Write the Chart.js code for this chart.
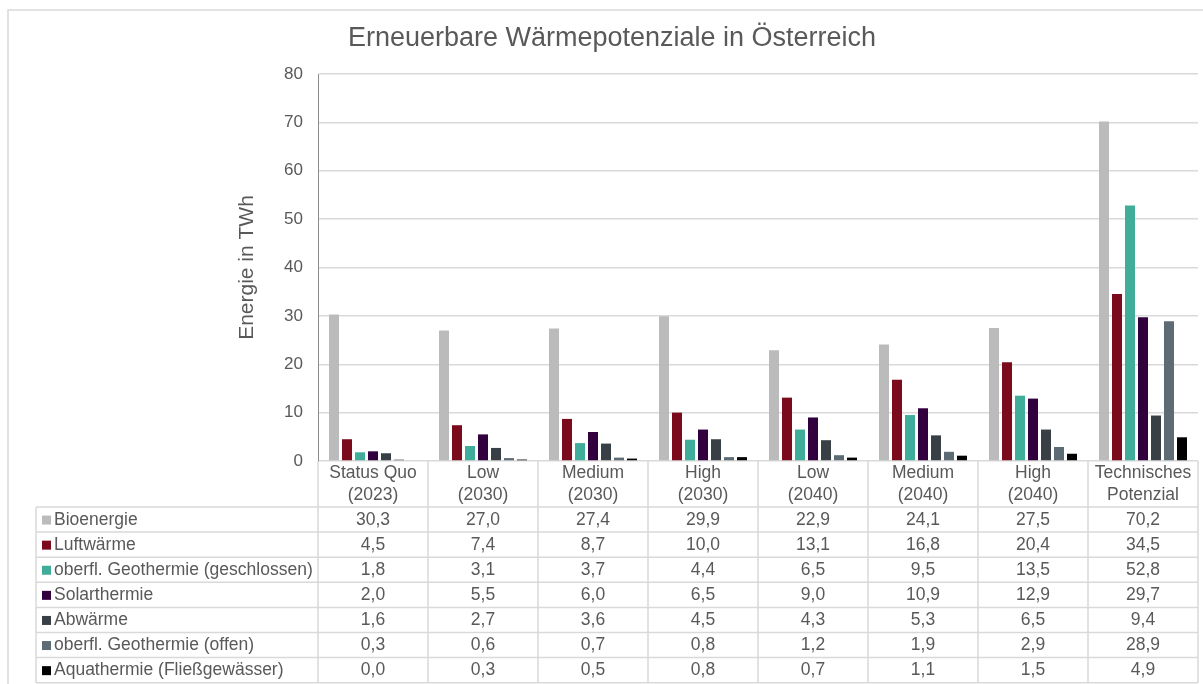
<!DOCTYPE html>
<html>
<head>
<meta charset="utf-8">
<script src="https://cdn.jsdelivr.net/npm/chart.js@4"></script>
<style>
  body { margin: 0; background: #fff; }
  #wrap { width: 1203px; height: 684px; }
</style>
</head>
<body>
<div id="wrap"><canvas id="heat-chart"></canvas></div>
<script>
// categories (two lines each, like the Excel data table header)
const categories = [
  ["Status Quo", "(2023)"], ["Low", "(2030)"], ["Medium", "(2030)"], ["High", "(2030)"],
  ["Low", "(2040)"], ["Medium", "(2040)"], ["High", "(2040)"], ["Technisches", "Potenzial"]
];
const seriesNames = [
  "Bioenergie", "Luftwärme", "oberfl. Geothermie (geschlossen)", "Solarthermie",
  "Abwärme", "oberfl. Geothermie (offen)", "Aquathermie (Fließgewässer)"
];
const bioenergie = [30.3, 27.0, 27.4, 29.9, 22.9, 24.1, 27.5, 70.2];
const luftwaerme = [4.5, 7.4, 8.7, 10.0, 13.1, 16.8, 20.4, 34.5];
const geoGeschlossen = [1.8, 3.1, 3.7, 4.4, 6.5, 9.5, 13.5, 52.8];
const solarthermie = [2.0, 5.5, 6.0, 6.5, 9.0, 10.9, 12.9, 29.7];
const abwaerme = [1.6, 2.7, 3.6, 4.5, 4.3, 5.3, 6.5, 9.4];
const geoOffen = [0.3, 0.6, 0.7, 0.8, 1.2, 1.9, 2.9, 28.9];
const aquathermie = [0.0, 0.3, 0.5, 0.8, 0.7, 1.1, 1.5, 4.9];
const yTicks = [0, 10, 20, 30, 40, 50, 60, 70, 80];

const seriesValues = [bioenergie, luftwaerme, geoGeschlossen, solarthermie, abwaerme, geoOffen, aquathermie];
const colors = ['#BBBBBB', '#7B0A1C', '#40AC9A', '#33003F', '#394045', '#5D6B75', '#000000'];

const textColor = '#595959';
const lineColor = '#D9D9D9';
const fontFamily = '"Liberation Sans", Arial, sans-serif';

// data table + frame under the plot
const tablePlugin = {
  id: 'dataTable',
  beforeDraw(chart) {
    const ctx = chart.ctx;
    ctx.save();
    ctx.strokeStyle = lineColor;
    ctx.lineWidth = 1.5;
    ctx.beginPath();
    ctx.moveTo(8, 684);
    ctx.lineTo(8, 10);
    ctx.lineTo(1203, 10);
    ctx.stroke();
    ctx.restore();
  },
  afterDraw(chart) {
    const ctx = chart.ctx;
    const x = chart.scales.x;
    const area = chart.chartArea;
    const colW = (area.right - area.left) / categories.length;
    const headTop = area.bottom;
    const tableTop = 507;
    const rowH = 25.1;
    const tableLeft = 36;
    const tableBottom = tableTop + rowH * seriesNames.length;

    ctx.save();
    ctx.strokeStyle = lineColor;
    ctx.lineWidth = 1.5;
    ctx.beginPath();
    // vertical lines
    for (let i = 0; i <= categories.length; i++) {
      const vx = area.left + i * colW;
      ctx.moveTo(vx, headTop);
      ctx.lineTo(vx, tableBottom);
    }
    ctx.moveTo(tableLeft, tableTop);
    ctx.lineTo(tableLeft, tableBottom);
    // horizontal lines
    for (let r = 0; r <= seriesNames.length; r++) {
      const hy = tableTop + r * rowH;
      ctx.moveTo(tableLeft, hy);
      ctx.lineTo(area.right, hy);
    }
    ctx.stroke();

    ctx.fillStyle = textColor;
    ctx.font = '17.5px ' + fontFamily;
    ctx.textBaseline = 'middle';
    ctx.textAlign = 'center';
    // header
    categories.forEach((lab, i) => {
      const cx = x.getPixelForValue(i);
      ctx.fillText(lab[0], cx, headTop + 12.5);
      ctx.fillText(lab[1], cx, headTop + 34);
    });
    // rows
    seriesNames.forEach((name, r) => {
      const cy = tableTop + r * rowH + rowH / 2 + 0.5;
      ctx.fillStyle = colors[r];
      ctx.fillRect(42, cy - 4.5, 9, 9);
      ctx.fillStyle = textColor;
      ctx.textAlign = 'left';
      ctx.fillText(name, 54, cy);
      ctx.textAlign = 'center';
      seriesValues[r].forEach((v, i) => {
        ctx.fillText(v.toFixed(1).replace('.', ','), x.getPixelForValue(i), cy);
      });
    });
    ctx.restore();
  }
};

const heatCanvas = document.getElementById('heat-chart');

const heatData = {
  labels: categories,
  datasets: seriesNames.map((name, i) => ({
    label: name,
    data: seriesValues[i],
    backgroundColor: colors[i],
    borderWidth: 0,
    categoryPercentage: 0.827,
    barPercentage: 0.77
  }))
};

const heatOptions = {
  responsive: true,
  maintainAspectRatio: false,
  animation: false,
  layout: {
    padding: { left: 26, right: 5, top: 0, bottom: 223 }
  },
  scales: {
    x: { display: false },
    y: {
      min: 0,
      max: 80,
      afterFit: (scale) => { scale.width = 292; },
      afterBuildTicks: (scale) => { scale.ticks = yTicks.map(v => ({ value: v })); },
      ticks: {
        color: textColor,
        padding: 15,
        font: { family: fontFamily, size: 17 }
      },
      grid: {
        color: lineColor,
        lineWidth: 1.5,
        drawTicks: false
      },
      border: { color: '#8C8C8C', width: 1 },
      title: {
        display: true,
        text: 'Energie in TWh',
        color: textColor,
        font: { family: fontFamily, size: 21 },
        padding: { top: 209, bottom: 0 }
      }
    }
  },
  plugins: {
    legend: { display: false },
    tooltip: { enabled: false },
    title: {
      display: true,
      text: 'Erneuerbare Wärmepotenziale in Österreich',
      color: textColor,
      font: { family: fontFamily, size: 27, weight: 'normal' },
      padding: { top: 22, bottom: 19.6 }
    }
  }
};

let heatChart = new Chart(heatCanvas, {
  type: 'bar',
  data: heatData,
  options: heatOptions,
  plugins: [tablePlugin]
});
</script>
</body>
</html>
